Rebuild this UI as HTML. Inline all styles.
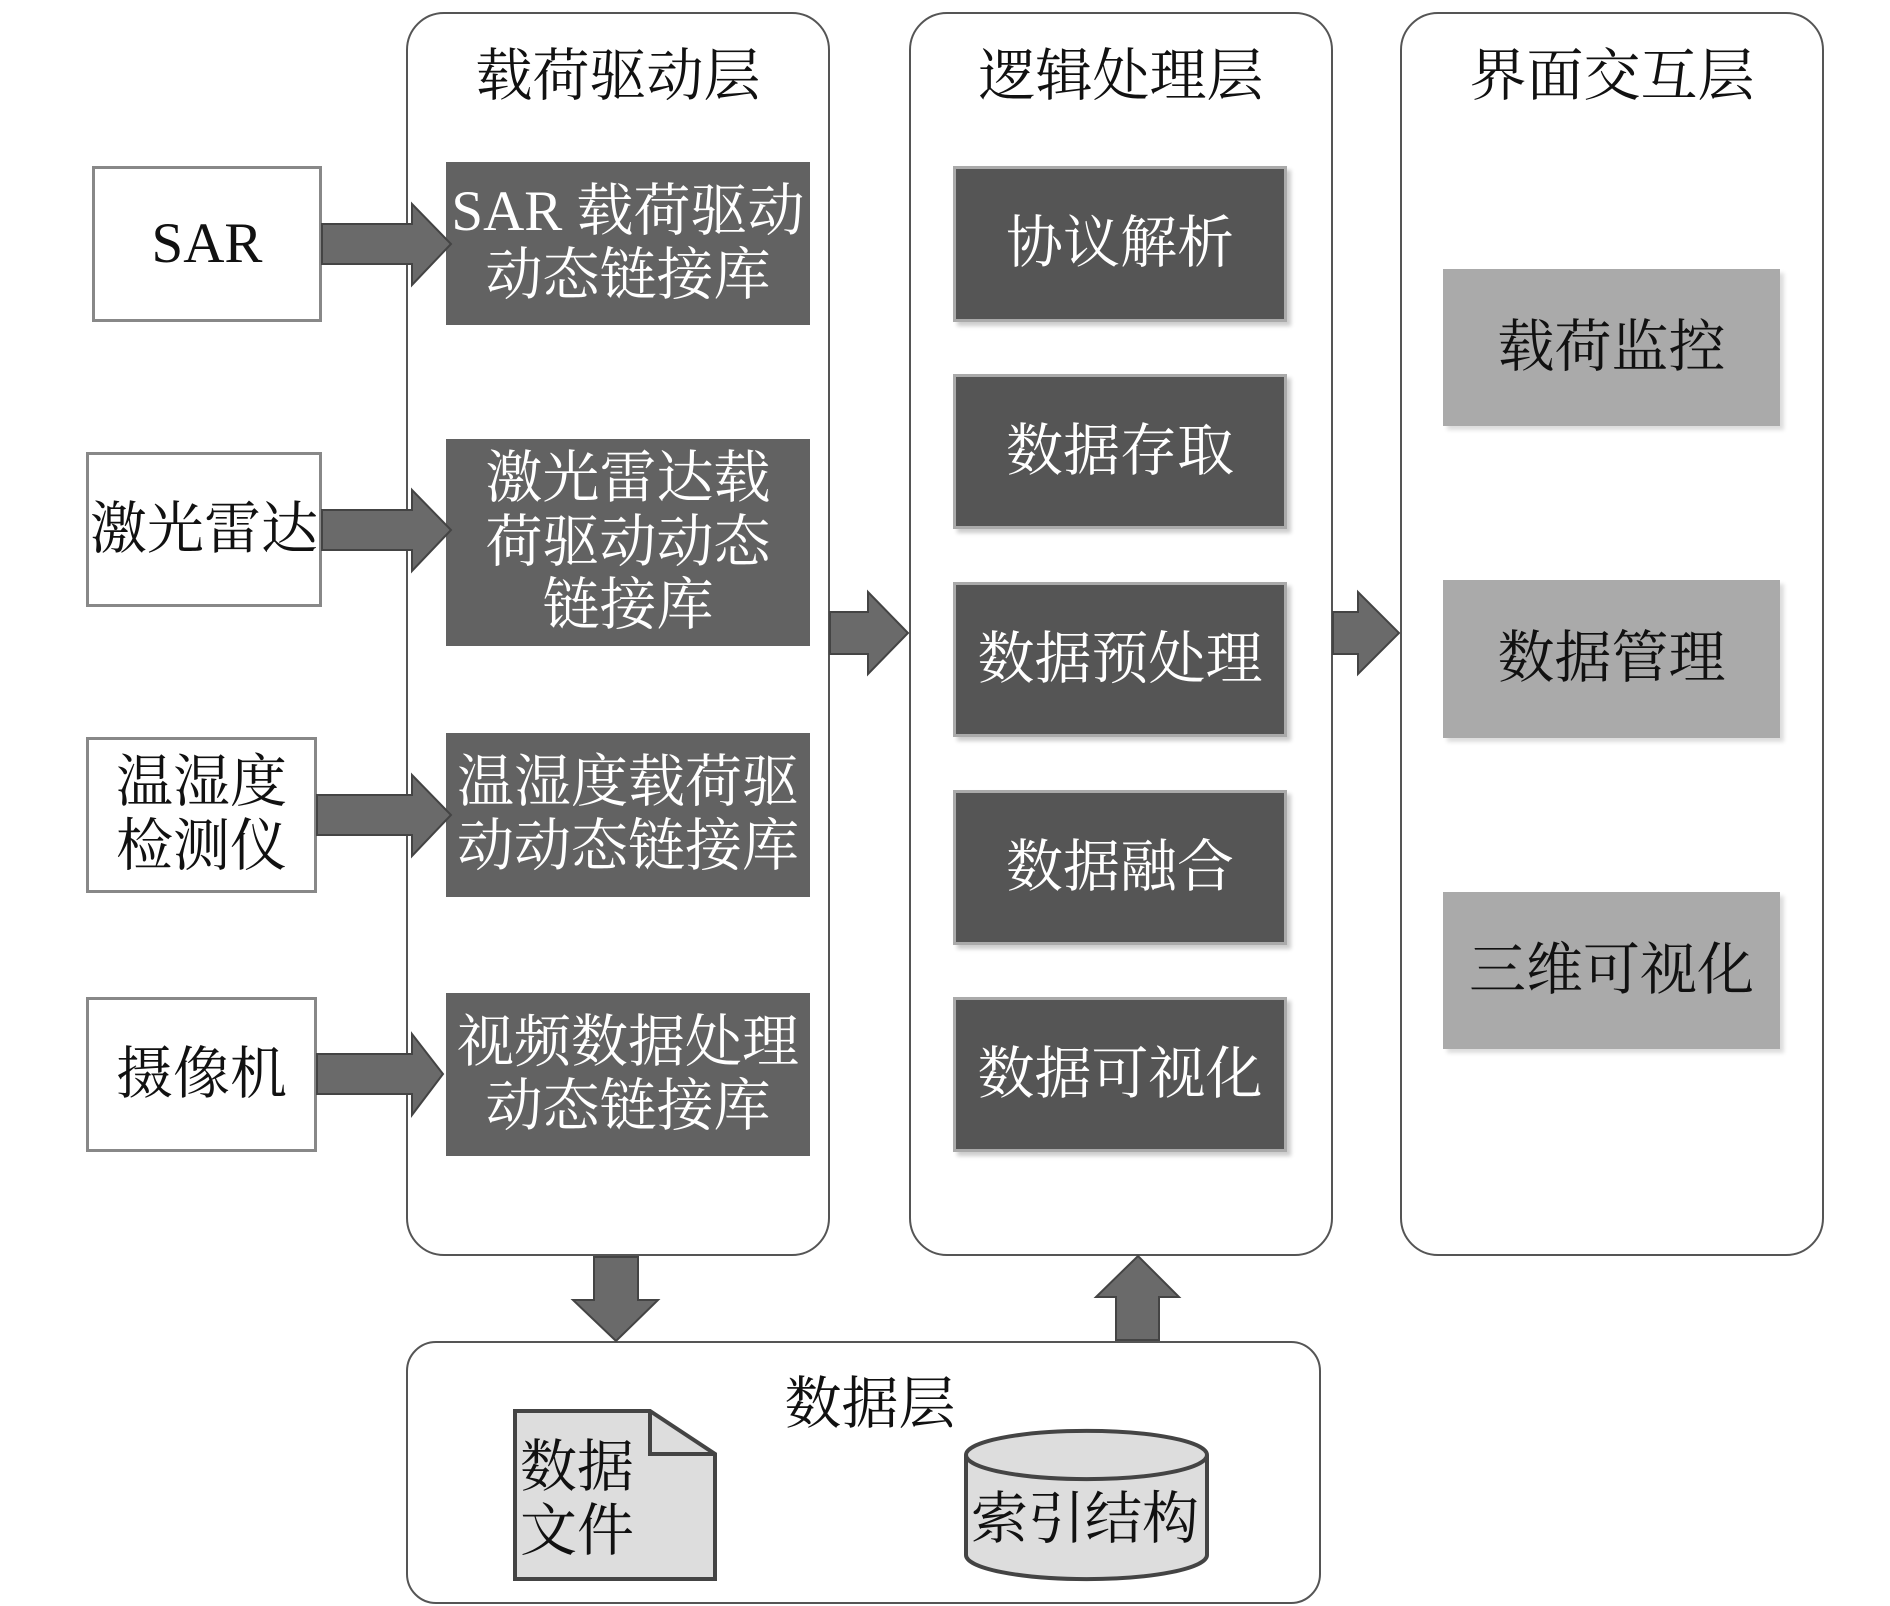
<!DOCTYPE html>
<html><head><meta charset="utf-8"><style>
body{margin:0;width:1890px;height:1606px;background:#fff;position:relative;overflow:hidden;font-family:"Liberation Serif","Noto Serif CJK SC",serif;}
.a{position:absolute;box-sizing:border-box;display:flex;align-items:center;justify-content:center;text-align:center;line-height:1.12;font-size:57px;}
.col{border:2px solid #555;border-radius:38px;background:#fff;}
.t{position:absolute;font-size:57px;text-align:center;color:#111;}
.w{background:#fff;border:3px solid #888;color:#111;}
.d1{background:#626262;color:#fff;}
.d2{background:#555;color:#fff;border:3px solid #aaa;box-shadow:4px 4px 4px #ccc;}
.g{background:#aaa;color:#111;box-shadow:4px 4px 4px #ddd;}
</style></head><body>
<div class="a col" style="left:406px;top:12px;width:424px;height:1244px"></div>
<div class="a col" style="left:909px;top:12px;width:424px;height:1244px"></div>
<div class="a col" style="left:1400px;top:12px;width:424px;height:1244px"></div>
<div class="a col" style="left:406px;top:1341px;width:915px;height:263px;border-radius:30px"></div>
<div class="t" style="left:406px;top:30px;width:424px">载荷驱动层</div>
<div class="t" style="left:909px;top:30px;width:424px">逻辑处理层</div>
<div class="t" style="left:1400px;top:30px;width:424px">界面交互层</div>
<div class="t" style="left:700px;top:1358px;width:340px">数据层</div>

<div class="a w" style="left:92px;top:166px;width:230px;height:156px">SAR</div>
<div class="a w" style="left:86px;top:452px;width:236px;height:155px">激光雷达</div>
<div class="a w" style="left:86px;top:737px;width:231px;height:156px">温湿度<br>检测仪</div>
<div class="a w" style="left:86px;top:997px;width:231px;height:155px">摄像机</div>

<div class="a d1" style="left:446px;top:162px;width:364px;height:163px">SAR 载荷驱动<br>动态链接库</div>
<div class="a d1" style="left:446px;top:439px;width:364px;height:207px">激光雷达载<br>荷驱动动态<br>链接库</div>
<div class="a d1" style="left:446px;top:733px;width:364px;height:164px">温湿度载荷驱<br>动动态链接库</div>
<div class="a d1" style="left:446px;top:993px;width:364px;height:163px">视频数据处理<br>动态链接库</div>

<div class="a d2" style="left:953px;top:166px;width:334px;height:156px">协议解析</div>
<div class="a d2" style="left:953px;top:374px;width:334px;height:155px">数据存取</div>
<div class="a d2" style="left:953px;top:582px;width:334px;height:155px">数据预处理</div>
<div class="a d2" style="left:953px;top:790px;width:334px;height:155px">数据融合</div>
<div class="a d2" style="left:953px;top:997px;width:334px;height:155px">数据可视化</div>

<div class="a g" style="left:1443px;top:269px;width:337px;height:157px">载荷监控</div>
<div class="a g" style="left:1443px;top:580px;width:337px;height:158px">数据管理</div>
<div class="a g" style="left:1443px;top:892px;width:337px;height:157px">三维可视化</div>

<svg style="position:absolute;left:0;top:0" width="1890" height="1606">
<g fill="#6a6a6a" stroke="#444" stroke-width="2">
<polygon points="322,224 412,224 412,204 451,244 412,285 412,264 322,264"/>
<polygon points="322,510 412,510 412,490 451,530 412,571 412,550 322,550"/>
<polygon points="317,795 412,795 412,775 451,815 412,856 412,835 317,835"/>
<polygon points="317,1054 412,1054 412,1034 443,1074 412,1115 412,1094 317,1094"/>
<polygon points="830,612 868,612 868,592 908,633 868,674 868,654 830,654"/>
<polygon points="1333,612 1358,612 1358,592 1399,633 1358,674 1358,654 1333,654"/>
<polygon points="594,1257 638,1257 638,1300 658,1300 616,1341 573,1300 594,1300"/>
<polygon points="1116,1340 1159,1340 1159,1297 1179,1297 1138,1256 1096,1297 1116,1297"/>
</g>
<polygon points="515,1411 650,1411 715,1454 715,1579 515,1579" fill="#ddd" stroke="#444" stroke-width="4"/>
<polyline points="650,1411 650,1454 715,1454" fill="none" stroke="#444" stroke-width="4"/>
<path d="M966,1455 A120,24 0 0 1 1207,1455 L1207,1555 A120,24 0 0 1 966,1555 Z" fill="#ddd" stroke="#444" stroke-width="4"/>
<path d="M966,1455 A120,24 0 0 0 1207,1455" fill="none" stroke="#444" stroke-width="4"/>
</svg>
<div class="a" style="left:520px;top:1425px;width:130px;height:150px;justify-content:flex-start;text-align:left;color:#111">数据<br>文件</div>
<div class="a" style="left:960px;top:1480px;width:250px;height:80px;color:#111">索引结构</div>
</body></html>
